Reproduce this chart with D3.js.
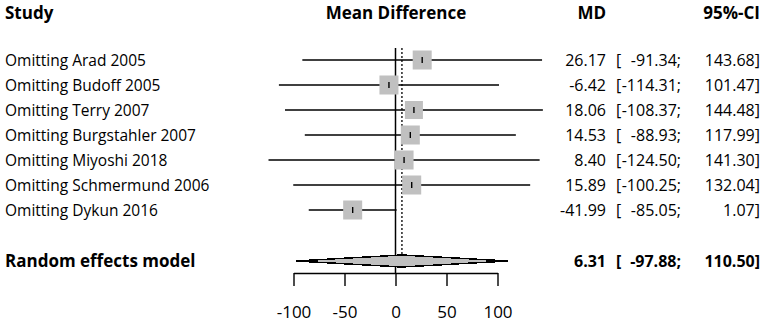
<!DOCTYPE html>
<html>
<head>
<meta charset="utf-8">
<script src="https://cdn.jsdelivr.net/npm/d3@7"></script>
<style>
  body { margin: 0; background: #fff; }
  svg text { font-family: 'Open Sans', sans-serif; font-size: 16px; fill: #000; }
  svg text.label { font-size: 15.5px; }
  svg text.head { font-size: 17px; font-weight: bold; }
</style>
</head>
<body>
<div id="chart"></div>
<script>
const studies = ['Omitting Arad 2005', 'Omitting Budoff 2005', 'Omitting Terry 2007', 'Omitting Burgstahler 2007',
  'Omitting Miyoshi 2018', 'Omitting Schmermund 2006', 'Omitting Dykun 2016']
const md = [26.17, -6.42, 18.06, 14.53, 8.40, 15.89, -41.99]
const lower = [-91.34, -114.31, -108.37, -88.93, -124.50, -100.25, -85.05]
const upper = [143.68, 101.47, 144.48, 117.99, 141.30, 132.04, 1.07]
const boxSize = [19, 19, 18, 19, 19, 19, 19]
const pooled = { label: 'Random effects model', md: 6.31, lower: -97.88, upper: 110.50 }
const ticks = [-100, -50, 0, 50, 100]

const width = 765
const height = 323
const rowTop = 60
const rowStep = 25
const pooledY = 261
const axisY = 273
const mdRight = 606
const lowRight = 681
const ciRight = 760

const svg = d3.select('#chart').append('svg')
  .attr('width', width)
  .attr('height', height)

const x = d3.scaleLinear().domain([-100, 100]).range([293.5, 497.5])
const y = d3.scaleLinear().domain([0, 1]).range([rowTop, rowTop + rowStep])

const fmt = v => v.toFixed(2)

// headers
svg.append('text').attr('class', 'head').attr('x', 5).attr('y', 19).text('Study')
svg.append('text').attr('class', 'head').attr('x', 396).attr('y', 19).attr('text-anchor', 'middle').text('Mean Difference')
svg.append('text').attr('class', 'head').attr('x', mdRight).attr('y', 19).attr('text-anchor', 'end').text('MD')
svg.append('text').attr('class', 'head').attr('x', ciRight).attr('y', 19).attr('text-anchor', 'end').text('95%-CI')

// reference lines
svg.append('line')
  .attr('x1', x(0)).attr('x2', x(0))
  .attr('y1', 48).attr('y2', axisY)
  .attr('stroke', '#000').attr('stroke-width', 1.5)

svg.append('line')
  .attr('x1', x(pooled.md)).attr('x2', x(pooled.md))
  .attr('y1', 48).attr('y2', 255)
  .attr('stroke', '#000').attr('stroke-width', 1.3)
  .attr('stroke-dasharray', '2,2')

const rows = svg.selectAll('.row')
  .data(studies.map((s, i) => ({ s, i })))
  .join('g')
  .attr('class', 'row')

rows.append('line')
  .attr('x1', d => x(lower[d.i])).attr('x2', d => Math.min(x(upper[d.i]), 543))
  .attr('y1', d => y(d.i)).attr('y2', d => y(d.i))
  .attr('stroke', '#000').attr('stroke-width', 1.4)

rows.append('rect')
  .attr('x', d => x(md[d.i]) - boxSize[d.i] / 2)
  .attr('y', d => y(d.i) - boxSize[d.i] / 2)
  .attr('width', d => boxSize[d.i])
  .attr('height', d => boxSize[d.i])
  .attr('fill', '#c0c0c0')

rows.append('line')
  .attr('x1', d => x(md[d.i])).attr('x2', d => x(md[d.i]))
  .attr('y1', d => y(d.i) - 3).attr('y2', d => y(d.i) + 3)
  .attr('stroke', '#000').attr('stroke-width', 1.4)

rows.append('text')
  .attr('class', 'label')
  .attr('x', 5).attr('y', d => y(d.i) + 6)
  .text(d => d.s)

rows.append('text')
  .attr('x', mdRight).attr('y', d => y(d.i) + 6)
  .attr('text-anchor', 'end')
  .text(d => fmt(md[d.i]))

const lowTexts = rows.append('text')
  .attr('x', lowRight).attr('y', d => y(d.i) + 6)
  .attr('text-anchor', 'end')
  .text(d => fmt(lower[d.i]) + ';')

rows.append('text')
  .attr('x', ciRight).attr('y', d => y(d.i) + 6)
  .attr('text-anchor', 'end')
  .text(d => fmt(upper[d.i]) + ']')

// pooled diamond
const dh = 6
svg.append('polygon')
  .attr('points', [
    [x(pooled.lower), pooledY],
    [x(pooled.md), pooledY - dh],
    [x(pooled.upper), pooledY],
    [x(pooled.md), pooledY + dh]
  ].map(p => p.join(',')).join(' '))
  .attr('fill', '#c0c0c0')
  .attr('stroke', '#000')
  .attr('stroke-width', 1.5)
  .attr('shape-rendering', 'crispEdges')

const pg = svg.append('g').style('font-weight', 'bold')
pg.append('text').attr('class', 'head').attr('x', 5).attr('y', pooledY + 6).text(pooled.label)
pg.append('text').attr('x', mdRight).attr('y', pooledY + 6).attr('text-anchor', 'end').text(fmt(pooled.md))
pg.append('text').attr('x', lowRight).attr('y', pooledY + 6).attr('text-anchor', 'end').text(fmt(pooled.lower) + ';')
pg.append('text').attr('x', ciRight).attr('y', pooledY + 6).attr('text-anchor', 'end').text(fmt(pooled.upper) + ']')

// opening brackets sit in a fixed column left of the widest lower bound
const maxLow = d3.max(lowTexts.nodes(), n => n.getComputedTextLength())
const bracketX = lowRight - maxLow - 0.5
rows.append('text')
  .attr('x', bracketX).attr('y', d => y(d.i) + 6)
  .attr('text-anchor', 'end')
  .text('[')
pg.append('text').attr('x', bracketX).attr('y', pooledY + 6).attr('text-anchor', 'end').text('[')

// axis
const axis = svg.append('g')
  .attr('transform', `translate(0,${axisY})`)
  .call(d3.axisBottom(x).tickValues(ticks).tickFormat(d => String(d)).tickSize(13).tickSizeOuter(0).tickPadding(20))

axis.select('.domain').attr('stroke-width', 1.4)
axis.selectAll('.tick line').attr('stroke-width', 1.4)
axis.selectAll('.tick text')
  .style('font-family', "'Open Sans', sans-serif")
  .style('font-size', '17px')
  .attr('fill', '#000')
</script>
</body>
</html>
